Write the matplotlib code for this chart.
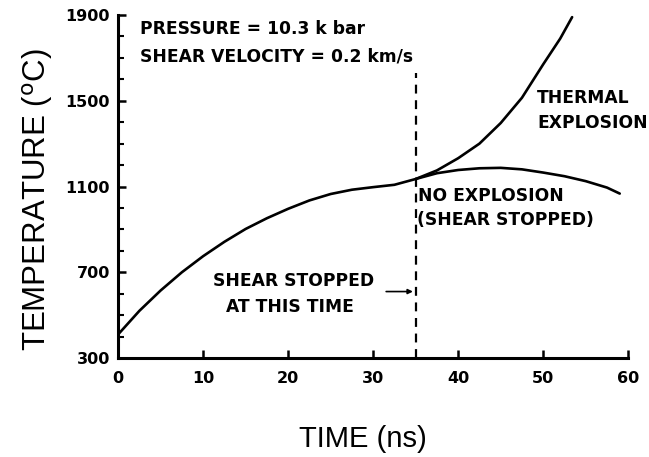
import numpy as np
import matplotlib.pyplot as plt
from matplotlib.ticker import MultipleLocator

# temperature history while shearing (up to the stop time)
time_shear = [0, 2.5, 5, 7.5, 10, 12.5, 15, 17.5, 20, 22.5, 25, 27.5, 30, 32.5, 35]
temp_shear = [410, 520, 615, 700, 775, 842, 902, 952, 996, 1035, 1065, 1085, 1097, 1108, 1135]

# shear continued -> runaway
time_thermal = [35, 37.5, 40, 42.5, 45, 47.5, 50, 52, 53.4]
temp_thermal = [1135, 1175, 1232, 1300, 1396, 1514, 1670, 1790, 1890]

# shear stopped at 35 ns
time_noexp = [35, 37.5, 40, 42.5, 45, 47.5, 50, 52.5, 55, 57.5, 59]
temp_noexp = [1135, 1162, 1177, 1185, 1187, 1180, 1165, 1148, 1125, 1095, 1067]

t_stop = 35

x_ticks = [0, 10, 20, 30, 40, 50, 60]
y_ticks = [300, 700, 1100, 1500, 1900]

bold = dict(family='DejaVu Sans', fontweight='bold', fontsize=12.3)

fig = plt.figure(figsize=(6.49, 4.57), dpi=100)
ax = fig.add_axes([0.182, 0.2166, 0.786, 0.7506])

ax.plot(time_shear, temp_shear, color='black', lw=1.9, solid_capstyle='round')
ax.plot(time_thermal, temp_thermal, color='black', lw=1.9, solid_capstyle='round')
ax.plot(time_noexp, temp_noexp, color='black', lw=1.9, solid_capstyle='round')

ax.plot([t_stop, t_stop], [300, 1630], color='black', lw=1.6, linestyle=(0, (4, 3)))

ax.set_xlim(0, 60)
ax.set_ylim(300, 1900)
ax.set_xticks(x_ticks)
ax.set_yticks(y_ticks)
ax.yaxis.set_minor_locator(MultipleLocator(100))

for s in ['top', 'right']:
    ax.spines[s].set_visible(False)
for s in ['left', 'bottom']:
    ax.spines[s].set_linewidth(2.2)

ax.tick_params(axis='both', which='major', direction='in', length=6, width=1.8, labelsize=11.5)
ax.tick_params(axis='y', which='minor', direction='in', length=4, width=1.5)
ax.tick_params(axis='y', pad=6)
ax.tick_params(axis='x', pad=9)
for lab in ax.get_xticklabels() + ax.get_yticklabels():
    lab.set_fontweight('bold')

ax.set_xlabel('TIME (ns)', fontsize=21, family='Liberation Sans')
ax.set_ylabel(r'TEMPERATURE ($^{\mathrm{o}}$C)', fontsize=22.5, family='Liberation Sans')
ax.xaxis.set_label_coords((363 - 118) / 510, -(439 - 358) / 343)
ax.yaxis.set_label_coords(-(118 - 37) / 510, (358 - 200) / 343)
ax.xaxis.label.set_va('center')
ax.yaxis.label.set_va('center')

ax.text(2.6, 1835, 'PRESSURE = 10.3 k bar', va='center', ha='left', **bold)
ax.text(2.6, 1705, 'SHEAR VELOCITY = 0.2 km/s', va='center', ha='left', **bold)
ax.text(49.3, 1515, 'THERMAL', va='center', ha='left', **bold)
ax.text(49.3, 1395, 'EXPLOSION', va='center', ha='left', **bold)
ax.text(35.3, 1055, 'NO EXPLOSION', va='center', ha='left', **bold)
ax.text(35.1, 945, '(SHEAR STOPPED)', va='center', ha='left', **bold)
ax.text(20.6, 660, 'SHEAR STOPPED', va='center', ha='center', **bold)
ax.text(20.2, 540, 'AT THIS TIME', va='center', ha='center', **bold)

ax.annotate('', xy=(t_stop, 610), xytext=(31.2, 610),
            arrowprops=dict(arrowstyle='-|>', color='black', lw=1.2, mutation_scale=7))

fig.savefig('out.png', dpi=100, facecolor='white')
